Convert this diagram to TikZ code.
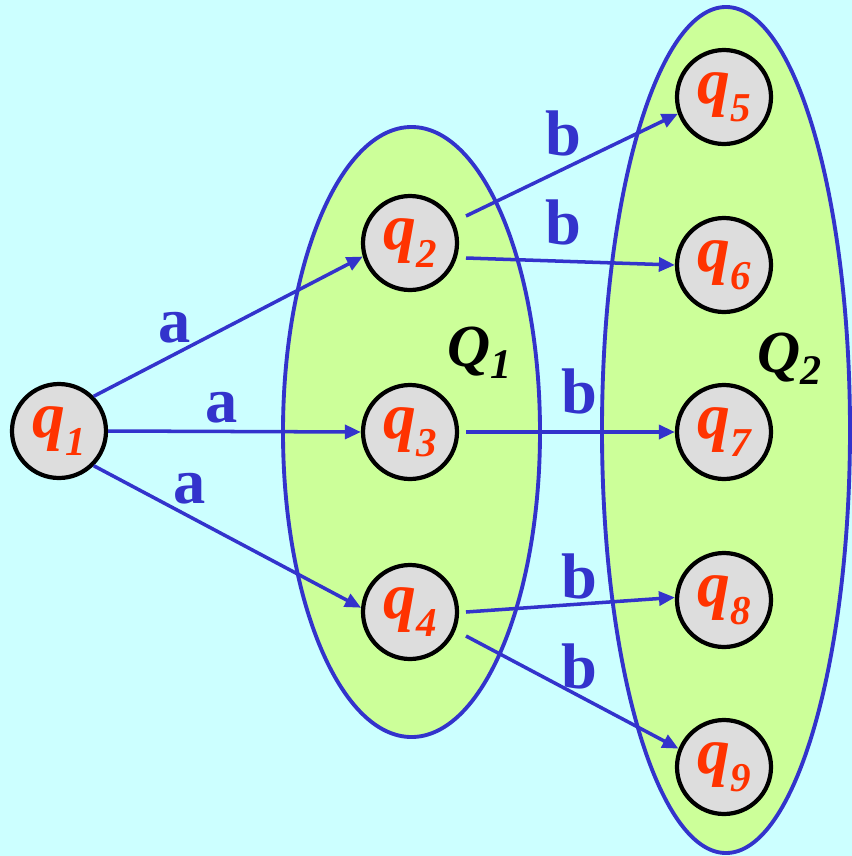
\documentclass[tikz,border=0pt]{standalone}
\usepackage{fontspec}
\setmainfont{Liberation Serif}[BoldItalicFont={Liberation Serif Bold Italic},ItalicFont={Liberation Serif Italic},BoldFont={Liberation Serif Bold}]
\usetikzlibrary{arrows.meta,calc}
\definecolor{bgc}{HTML}{CCFFFF}
\definecolor{setfill}{HTML}{CCFF99}
\definecolor{blu}{HTML}{3333CC}
\definecolor{nodegray}{HTML}{DDDDDD}
\definecolor{qred}{HTML}{FF3300}
\newcommand{\qlab}[1]{{\fontsize{56}{56}\selectfont\bfseries\itshape q\raisebox{-15pt}{\fontsize{35}{35}\selectfont #1}}}
\newcommand{\Qlab}[1]{{\fontsize{51}{51}\selectfont\bfseries\itshape Q\raisebox{-11pt}{\fontsize{36}{36}\selectfont #1}}}
\begin{document}
\begin{tikzpicture}[x=0.03cm,y=-0.03cm,
  state/.style={circle,draw=black,line width=3.6pt,fill=nodegray,minimum size=2.82cm,inner sep=0pt,text=qred},
  setell/.style={draw=blu,fill=setfill,line width=3.3pt},
  edge/.style={draw=blu,line width=3pt,-{Triangle[length=0.48cm,width=0.42cm]}},
  elab/.style={text=blu,inner sep=0pt,font=\fontsize{55}{55}\selectfont\bfseries},
  setlab/.style={text=black,inner sep=0pt,anchor=base west}]
\useasboundingbox (0,0) rectangle (852,856);
\fill[bgc] (0,0) rectangle (852,856);
% sets
\draw[setell] (411.5,432) ellipse [x radius=3.855cm, y radius=9.15cm];
\draw[setell] (726,430) ellipse [x radius=3.72cm, y radius=12.69cm];
\node[setlab] (Q1) at (447,366) {\Qlab{1}};
\node[setlab] (Q2) at (757,372) {\Qlab{2}};
% states
\node[state] (q1) at (59,431) {\qlab{1}};
\node[state] (q2) at (410,243) {\qlab{2}};
\node[state] (q3) at (410,432) {\qlab{3}};
\node[state] (q4) at (410,612) {\qlab{4}};
\node[state] (q5) at (724,97) {\qlab{5}};
\node[state] (q6) at (724,265) {\qlab{6}};
\node[state] (q7) at (724,432) {\qlab{7}};
\node[state] (q8) at (724,600) {\qlab{8}};
\node[state] (q9) at (724,767) {\qlab{9}};
% edges
\draw[edge] (q1.45) -- (q2.196);
\draw[edge] (q1.0) -- (q3.180);
\draw[edge] (q1.315) -- (q4.175);
\draw[edge] ($(q2)+(56,-27)$) -- (q5.200);
\draw[edge] ($(q2)+(56,15)$) -- (q6.180);
\draw[edge] ($(q3)+(56,0)$) -- (q7.180);
\draw[edge] ($(q4)+(56,0)$) -- (q8.177);
\draw[edge] ($(q4)+(56,24)$) -- (q9.158);
% edge labels
\node[elab] (a1) at (175,328) {a};
\node[elab] (a2) at (222,408) {a};
\node[elab] (a3) at (190,489) {a};
\node[elab] (b1) at (563,133) {b};
\node[elab] (b2) at (563,222) {b};
\node[elab] (b3) at (579,391) {b};
\node[elab] (b4) at (579,576) {b};
\node[elab] (b5) at (579,666) {b};
\end{tikzpicture}
\end{document}
